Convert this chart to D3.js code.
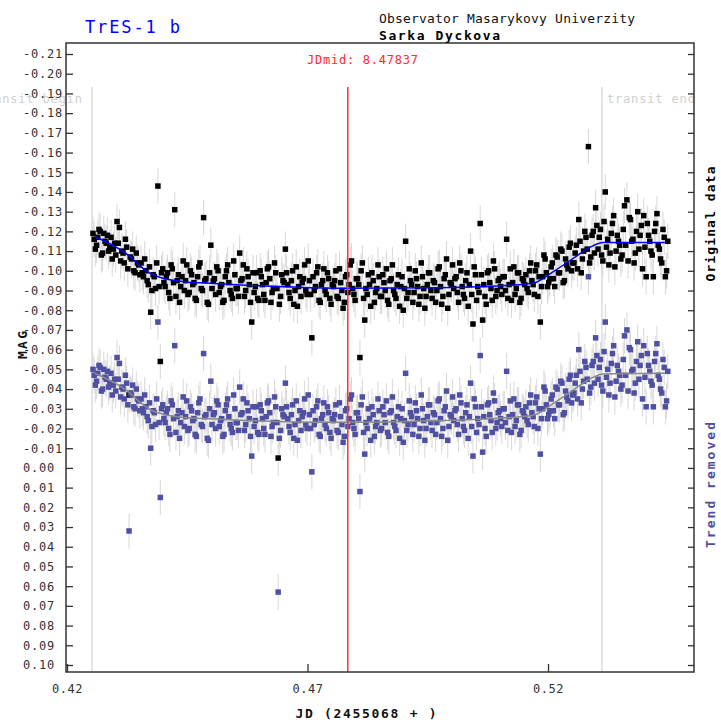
<!DOCTYPE html>
<html>
<head>
<meta charset="utf-8">
<script src="https://cdn.jsdelivr.net/npm/d3@7"></script>
<style>
  html, body { margin: 0; padding: 0; background: #fff; }
  svg { display: block; font-family: "DejaVu Sans Mono", monospace; }
</style>
</head>
<body>
<svg id="chart" width="721" height="727"></svg>
<script>
// observation times, JD - 2455068 (even frames, then odd frames)
const jd = [
  0.4254,0.4259,0.4264,0.4269,0.4274,0.4279,0.4284,0.4289,0.4294,0.4299,
  0.4304,0.4309,0.4314,0.4319,0.4324,0.4329,0.4334,0.4339,0.4344,0.4349,
  0.4354,0.4359,0.4364,0.4369,0.4374,0.4379,0.4384,0.4389,0.4394,0.4399,
  0.4404,0.4409,0.4414,0.4419,0.4424,0.4429,0.4434,0.4439,0.4444,0.4449,
  0.4454,0.4459,0.4464,0.4469,0.4474,0.4479,0.4484,0.4489,0.4494,0.4499,
  0.4504,0.4509,0.4514,0.4519,0.4524,0.4529,0.4534,0.4539,0.4544,0.4549,
  0.4554,0.4559,0.4564,0.4569,0.4574,0.4579,0.4584,0.4589,0.4594,0.4599,
  0.4604,0.4609,0.4614,0.4619,0.4624,0.4629,0.4634,0.4639,0.4644,0.4649,
  0.4654,0.4659,0.4664,0.4669,0.4674,0.4679,0.4684,0.4689,0.4694,0.4699,
  0.4704,0.4709,0.4714,0.4719,0.4724,0.4729,0.4734,0.4739,0.4744,0.4749,
  0.4754,0.4759,0.4764,0.4769,0.4774,0.4779,0.4784,0.4789,0.4794,0.4799,
  0.4804,0.4809,0.4814,0.4819,0.4824,0.4829,0.4834,0.4839,0.4844,0.4849,
  0.4854,0.4859,0.4864,0.4869,0.4874,0.4879,0.4884,0.4889,0.4894,0.4899,
  0.4904,0.4909,0.4914,0.4919,0.4924,0.4929,0.4934,0.4939,0.4944,0.4949,
  0.4954,0.4959,0.4964,0.4969,0.4974,0.4979,0.4984,0.4989,0.4994,0.4999,
  0.5004,0.5009,0.5014,0.5019,0.5024,0.5029,0.5034,0.5039,0.5044,0.5049,
  0.5054,0.5059,0.5064,0.5069,0.5074,0.5079,0.5084,0.5089,0.5094,0.5099,
  0.5104,0.5109,0.5114,0.5119,0.5124,0.5129,0.5134,0.5139,0.5144,0.5149,
  0.5154,0.5159,0.5164,0.5169,0.5174,0.5179,0.5184,0.5189,0.5194,0.5199,
  0.5204,0.5209,0.5214,0.5219,0.5224,0.5229,0.5234,0.5239,0.5244,0.5249,
  0.5254,0.5259,0.5264,0.5269,0.5274,0.5279,0.5284,0.5289,0.5294,0.5299,
  0.5304,0.5309,0.5314,0.5319,0.5324,0.5329,0.5334,0.5339,0.5344,0.5349,
  0.5354,0.5359,0.5364,0.5369,0.5374,0.5379,0.5384,0.5389,0.5394,0.5399,
  0.5404,0.5409,0.5414,0.5419,0.5424,0.5429,0.5434,0.5439,0.5444,0.5449,
  // odd frames
  0.42565,0.42615,0.42665,0.42715,0.42765,0.42815,0.42865,0.42915,0.42965,0.43015,
  0.43065,0.43115,0.43165,0.43215,0.43265,0.43315,0.43365,0.43415,0.43465,0.43515,
  0.43565,0.43615,0.43665,0.43715,0.43765,0.43815,0.43865,0.43915,0.43965,0.44015,
  0.44065,0.44115,0.44165,0.44215,0.44265,0.44315,0.44365,0.44415,0.44465,0.44515,
  0.44565,0.44615,0.44665,0.44715,0.44765,0.44815,0.44865,0.44915,0.44965,0.45015,
  0.45065,0.45115,0.45165,0.45215,0.45265,0.45315,0.45365,0.45415,0.45465,0.45515,
  0.45565,0.45615,0.45665,0.45715,0.45765,0.45815,0.45865,0.45915,0.45965,0.46015,
  0.46065,0.46115,0.46165,0.46215,0.46265,0.46315,0.46365,0.46415,0.46465,0.46515,
  0.46565,0.46615,0.46665,0.46715,0.46765,0.46815,0.46865,0.46915,0.46965,0.47015,
  0.47065,0.47115,0.47165,0.47215,0.47265,0.47315,0.47365,0.47415,0.47465,0.47515,
  0.47565,0.47615,0.47665,0.47715,0.47765,0.47815,0.47865,0.47915,0.47965,0.48015,
  0.48065,0.48115,0.48165,0.48215,0.48265,0.48315,0.48365,0.48415,0.48465,0.48515,
  0.48565,0.48615,0.48665,0.48715,0.48765,0.48815,0.48865,0.48915,0.48965,0.49015,
  0.49065,0.49115,0.49165,0.49215,0.49265,0.49315,0.49365,0.49415,0.49465,0.49515,
  0.49565,0.49615,0.49665,0.49715,0.49765,0.49815,0.49865,0.49915,0.49965,0.50015,
  0.50065,0.50115,0.50165,0.50215,0.50265,0.50315,0.50365,0.50415,0.50465,0.50515,
  0.50565,0.50615,0.50665,0.50715,0.50765,0.50815,0.50865,0.50915,0.50965,0.51015,
  0.51065,0.51115,0.51165,0.51215,0.51265,0.51315,0.51365,0.51415,0.51465,0.51515,
  0.51565,0.51615,0.51665,0.51715,0.51765,0.51815,0.51865,0.51915,0.51965,0.52015,
  0.52065,0.52115,0.52165,0.52215,0.52265,0.52315,0.52365,0.52415,0.52465,0.52515,
  0.52565,0.52615,0.52665,0.52715,0.52765,0.52815,0.52865,0.52915,0.52965,0.53015,
  0.53065,0.53115,0.53165,0.53215,0.53265,0.53315,0.53365,0.53415,0.53465,0.53515,
  0.53565,0.53615,0.53665,0.53715,0.53765,0.53815,0.53865,0.53915,0.53965,0.54015,
  0.54065,0.54115,0.54165,0.54215,0.54265,0.54315,0.54365,0.54415,0.54465
];

// magnitudes, original data
const magOriginal = [
  -0.119,-0.111,-0.117,-0.120,-0.109,-0.115,-0.118,-0.112,-0.106,-0.114,
  -0.125,-0.122,-0.110,-0.104,-0.112,-0.037,-0.106,-0.100,-0.109,-0.103,
  -0.104,-0.097,-0.100,-0.093,-0.079,-0.098,-0.091,-0.143,-0.054,-0.101,
  -0.092,-0.099,-0.086,-0.101,-0.131,-0.095,-0.084,-0.097,-0.090,-0.103,
  -0.089,-0.098,-0.094,-0.085,-0.102,-0.091,-0.127,-0.096,-0.083,-0.113,
  -0.095,-0.088,-0.100,-0.092,-0.084,-0.097,-0.103,-0.090,-0.086,-0.098,
  -0.091,-0.109,-0.096,-0.087,-0.101,-0.093,-0.074,-0.089,-0.099,-0.085,
  -0.097,-0.088,-0.094,-0.102,-0.084,-0.091,-0.099,-0.005,-0.087,-0.095,
  -0.111,-0.093,-0.086,-0.100,-0.090,-0.082,-0.097,-0.094,-0.103,-0.088,
  -0.095,-0.066,-0.090,-0.099,-0.085,-0.093,-0.101,-0.088,-0.096,-0.083,
  -0.092,-0.100,-0.086,-0.094,-0.081,-0.097,-0.089,-0.103,-0.091,-0.085,
  -0.096,-0.056,-0.104,-0.075,-0.088,-0.093,-0.099,-0.084,-0.091,-0.097,
  -0.087,-0.094,-0.101,-0.083,-0.096,-0.090,-0.086,-0.098,-0.092,-0.080,
  -0.115,-0.089,-0.095,-0.084,-0.100,-0.092,-0.087,-0.097,-0.081,-0.093,
  -0.099,-0.086,-0.094,-0.090,-0.102,-0.083,-0.096,-0.106,-0.088,-0.093,
  -0.091,-0.097,-0.084,-0.100,-0.088,-0.095,-0.082,-0.110,-0.073,-0.098,
  -0.092,-0.124,-0.075,-0.087,-0.099,-0.094,-0.085,-0.101,-0.090,-0.096,
  -0.088,-0.097,-0.116,-0.093,-0.085,-0.102,-0.091,-0.099,-0.086,-0.095,
  -0.098,-0.089,-0.104,-0.093,-0.100,-0.087,-0.074,-0.097,-0.106,-0.092,
  -0.096,-0.104,-0.092,-0.107,-0.099,-0.110,-0.095,-0.103,-0.112,-0.100,
  -0.104,-0.113,-0.126,-0.099,-0.110,-0.117,-0.163,-0.107,-0.120,-0.132,
  -0.111,-0.121,-0.105,-0.140,-0.116,-0.109,-0.124,-0.102,-0.118,-0.113,
  -0.108,-0.133,-0.136,-0.127,-0.115,-0.104,-0.120,-0.111,-0.123,-0.128,
  -0.097,-0.118,-0.110,-0.097,-0.124,-0.113,-0.106,-0.121,-0.097,-0.115,
  // odd frames
  -0.116,-0.113,-0.121,-0.108,-0.119,-0.114,-0.110,-0.117,-0.111,-0.108,
  -0.114,-0.105,-0.109,-0.116,-0.101,-0.107,-0.111,-0.099,-0.104,-0.098,
  -0.099,-0.106,-0.095,-0.102,-0.090,-0.097,-0.104,-0.092,-0.099,-0.094,
  -0.097,-0.089,-0.103,-0.094,-0.087,-0.098,-0.092,-0.105,-0.095,-0.088,
  -0.100,-0.093,-0.086,-0.097,-0.104,-0.090,-0.095,-0.084,-0.099,-0.091,
  -0.096,-0.102,-0.089,-0.093,-0.085,-0.100,-0.094,-0.088,-0.105,-0.091,
  -0.087,-0.095,-0.103,-0.090,-0.097,-0.084,-0.099,-0.092,-0.086,-0.100,
  -0.093,-0.085,-0.101,-0.096,-0.089,-0.104,-0.091,-0.083,-0.098,-0.094,
  -0.099,-0.089,-0.095,-0.083,-0.102,-0.092,-0.087,-0.096,-0.090,-0.105,
  -0.088,-0.097,-0.092,-0.102,-0.084,-0.095,-0.090,-0.099,-0.086,-0.093,
  -0.095,-0.087,-0.101,-0.090,-0.084,-0.098,-0.093,-0.105,-0.088,-0.096,
  -0.093,-0.100,-0.086,-0.091,-0.098,-0.082,-0.095,-0.089,-0.103,-0.087,
  -0.098,-0.090,-0.085,-0.095,-0.103,-0.088,-0.093,-0.082,-0.097,-0.091,
  -0.086,-0.101,-0.093,-0.089,-0.096,-0.083,-0.104,-0.091,-0.087,-0.099,
  -0.090,-0.095,-0.084,-0.101,-0.092,-0.087,-0.098,-0.081,-0.094,-0.103,
  -0.096,-0.089,-0.104,-0.092,-0.086,-0.099,-0.093,-0.088,-0.102,-0.085,
  -0.089,-0.098,-0.093,-0.083,-0.100,-0.091,-0.105,-0.087,-0.095,-0.092,
  -0.097,-0.090,-0.086,-0.101,-0.094,-0.088,-0.099,-0.084,-0.096,-0.093,
  -0.091,-0.100,-0.095,-0.088,-0.103,-0.097,-0.092,-0.108,-0.099,-0.094,
  -0.102,-0.096,-0.108,-0.099,-0.111,-0.094,-0.106,-0.101,-0.114,-0.104,
  -0.109,-0.101,-0.115,-0.106,-0.120,-0.111,-0.104,-0.118,-0.109,-0.123,
  -0.117,-0.108,-0.125,-0.112,-0.103,-0.119,-0.128,-0.110,-0.115,-0.106,
  -0.121,-0.113,-0.105,-0.126,-0.116,-0.109,-0.130,-0.118,-0.101,-0.112,
  -0.124,-0.115,-0.108,-0.120,-0.129,-0.111,-0.104,-0.117,-0.100
];

// magnitudes, trend removed
const magTrendRemoved = [
  -0.050,-0.042,-0.048,-0.051,-0.040,-0.046,-0.049,-0.043,-0.037,-0.045,
  -0.056,-0.053,-0.041,-0.035,-0.043, 0.032,-0.037,-0.031,-0.040,-0.034,
  -0.035,-0.028,-0.031,-0.024,-0.010,-0.029,-0.022,-0.074, 0.015,-0.032,
  -0.023,-0.030,-0.017,-0.032,-0.062,-0.026,-0.015,-0.028,-0.021,-0.034,
  -0.020,-0.029,-0.025,-0.016,-0.033,-0.022,-0.058,-0.027,-0.014,-0.044,
  -0.027,-0.020,-0.032,-0.024,-0.016,-0.029,-0.035,-0.022,-0.018,-0.030,
  -0.023,-0.041,-0.028,-0.019,-0.033,-0.025,-0.006,-0.021,-0.031,-0.017,
  -0.029,-0.020,-0.026,-0.034,-0.016,-0.023,-0.031, 0.063,-0.019,-0.027,
  -0.043,-0.025,-0.018,-0.032,-0.022,-0.014,-0.029,-0.026,-0.035,-0.020,
  -0.027, 0.002,-0.022,-0.031,-0.017,-0.025,-0.033,-0.020,-0.028,-0.015,
  -0.024,-0.032,-0.018,-0.026,-0.013,-0.029,-0.021,-0.035,-0.023,-0.017,
  -0.028, 0.012,-0.036,-0.007,-0.020,-0.025,-0.031,-0.016,-0.023,-0.029,
  -0.020,-0.027,-0.034,-0.016,-0.029,-0.023,-0.019,-0.031,-0.025,-0.013,
  -0.048,-0.022,-0.028,-0.017,-0.033,-0.025,-0.020,-0.030,-0.014,-0.026,
  -0.032,-0.019,-0.027,-0.023,-0.035,-0.016,-0.029,-0.039,-0.021,-0.026,
  -0.024,-0.030,-0.017,-0.033,-0.021,-0.028,-0.015,-0.043,-0.006,-0.031,
  -0.025,-0.057,-0.008,-0.020,-0.032,-0.027,-0.018,-0.034,-0.023,-0.029,
  -0.021,-0.030,-0.049,-0.026,-0.018,-0.035,-0.024,-0.032,-0.019,-0.028,
  -0.031,-0.022,-0.037,-0.026,-0.033,-0.020,-0.007,-0.030,-0.039,-0.025,
  -0.029,-0.037,-0.025,-0.040,-0.032,-0.043,-0.028,-0.036,-0.045,-0.033,
  -0.038,-0.047,-0.060,-0.033,-0.044,-0.051,-0.097,-0.041,-0.054,-0.066,
  -0.045,-0.055,-0.039,-0.074,-0.050,-0.043,-0.058,-0.036,-0.052,-0.047,
  -0.042,-0.067,-0.070,-0.061,-0.049,-0.038,-0.054,-0.045,-0.057,-0.062,
  -0.031,-0.052,-0.044,-0.031,-0.058,-0.047,-0.040,-0.055,-0.031,-0.049,
  // odd frames
  -0.047,-0.044,-0.052,-0.039,-0.050,-0.045,-0.041,-0.048,-0.042,-0.039,
  -0.045,-0.036,-0.040,-0.047,-0.032,-0.038,-0.042,-0.030,-0.035,-0.029,
  -0.030,-0.037,-0.026,-0.033,-0.021,-0.028,-0.035,-0.023,-0.030,-0.025,
  -0.028,-0.020,-0.034,-0.025,-0.018,-0.029,-0.023,-0.036,-0.026,-0.019,
  -0.031,-0.024,-0.017,-0.028,-0.035,-0.021,-0.026,-0.015,-0.030,-0.022,
  -0.028,-0.034,-0.021,-0.025,-0.017,-0.032,-0.026,-0.020,-0.037,-0.023,
  -0.019,-0.027,-0.035,-0.022,-0.029,-0.016,-0.031,-0.024,-0.018,-0.032,
  -0.025,-0.017,-0.033,-0.028,-0.021,-0.036,-0.023,-0.015,-0.030,-0.026,
  -0.031,-0.021,-0.027,-0.015,-0.034,-0.024,-0.019,-0.028,-0.022,-0.037,
  -0.020,-0.029,-0.024,-0.034,-0.016,-0.027,-0.022,-0.031,-0.018,-0.025,
  -0.027,-0.019,-0.033,-0.022,-0.016,-0.030,-0.025,-0.037,-0.020,-0.028,
  -0.025,-0.032,-0.018,-0.023,-0.030,-0.014,-0.027,-0.021,-0.035,-0.019,
  -0.031,-0.023,-0.018,-0.028,-0.036,-0.021,-0.026,-0.015,-0.030,-0.024,
  -0.019,-0.034,-0.026,-0.022,-0.029,-0.016,-0.037,-0.024,-0.020,-0.032,
  -0.023,-0.028,-0.017,-0.034,-0.025,-0.020,-0.031,-0.014,-0.027,-0.036,
  -0.029,-0.022,-0.037,-0.025,-0.019,-0.032,-0.026,-0.021,-0.035,-0.018,
  -0.022,-0.031,-0.026,-0.016,-0.033,-0.024,-0.038,-0.020,-0.028,-0.025,
  -0.030,-0.023,-0.019,-0.034,-0.027,-0.021,-0.032,-0.017,-0.029,-0.026,
  -0.024,-0.033,-0.028,-0.021,-0.036,-0.030,-0.025,-0.041,-0.032,-0.027,
  -0.035,-0.029,-0.041,-0.032,-0.044,-0.027,-0.039,-0.034,-0.047,-0.037,
  -0.043,-0.035,-0.049,-0.040,-0.054,-0.045,-0.038,-0.052,-0.043,-0.057,
  -0.051,-0.042,-0.059,-0.046,-0.037,-0.053,-0.062,-0.044,-0.049,-0.040,
  -0.055,-0.047,-0.039,-0.060,-0.050,-0.043,-0.064,-0.052,-0.035,-0.046,
  -0.058,-0.049,-0.042,-0.054,-0.063,-0.045,-0.038,-0.051,-0.034
];

const magError = 0.009;

// fitted transit model
const modelJd = [0.4258, 0.4303, 0.4331, 0.4352, 0.4373, 0.4393, 0.4442, 0.4497, 0.4560, 0.4636,
  0.4774, 0.4961, 0.5066, 0.5169, 0.5211, 0.5253, 0.5287, 0.5315, 0.5443];
const modelOriginal = [-0.1173, -0.1119, -0.1072, -0.1024, -0.0987, -0.0967, -0.0945, -0.0937, -0.0928, -0.0920,
  -0.0911, -0.0914, -0.0920, -0.0937, -0.0996, -0.1064, -0.1119, -0.1143, -0.1143];
const modelTrendRemoved = [-0.0479, -0.0426, -0.0380, -0.0333, -0.0296, -0.0277, -0.0256, -0.0249, -0.0242, -0.0236,
  -0.0231, -0.0239, -0.0248, -0.0267, -0.0327, -0.0396, -0.0452, -0.0477, -0.0480];

const jdMid = 0.47837;
const jdMidLabel = "JDmid: 8.47837";
const transitBegin = 0.4252;
const transitEnd = 0.5312;

const xTicks = [0.42, 0.47, 0.52];
const yTicks = [-0.21, -0.20, -0.19, -0.18, -0.17, -0.16, -0.15, -0.14, -0.13, -0.12, -0.11,
  -0.10, -0.09, -0.08, -0.07, -0.06, -0.05, -0.04, -0.03, -0.02, -0.01,
  0.00, 0.01, 0.02, 0.03, 0.04, 0.05, 0.06, 0.07, 0.08, 0.09, 0.10];

const plotLeft = 66, plotRight = 694, plotTop = 43, plotBottom = 672;

const svg = d3.select("#chart");

const x = d3.scaleLinear().domain([0.42, 0.55035]).range([67, 694]);
const y = d3.scaleLinear().domain([-0.21, 0.10]).range([54, 665]);

svg.append("defs").append("clipPath").attr("id", "clipRight")
  .append("rect").attr("x", 0).attr("y", 0).attr("width", plotRight).attr("height", 727);

// transit begin / end markers
svg.selectAll("line.transit")
  .data([transitBegin, transitEnd])
  .join("line")
  .attr("class", "transit")
  .attr("x1", d => x(d)).attr("x2", d => x(d))
  .attr("y1", 87).attr("y2", plotBottom)
  .attr("stroke", "#dcdcdc")
  .attr("stroke-width", 1.5);

svg.append("text")
  .attr("x", x(transitBegin) - 10).attr("y", 103)
  .attr("text-anchor", "end")
  .attr("font-size", 12)
  .attr("textLength", 104).attr("lengthAdjust", "spacing")
  .attr("fill", "#cfcfcf")
  .text("transit begin");

svg.append("text")
  .attr("x", x(transitEnd) + 5).attr("y", 103)
  .attr("clip-path", "url(#clipRight)")
  .attr("font-size", 12)
  .attr("textLength", 88).attr("lengthAdjust", "spacing")
  .attr("fill", "#cfcfcf")
  .text("transit end");

const original = jd.map((t, i) => ({ t: t, m: magOriginal[i] }));
const detrended = jd.map((t, i) => ({ t: t, m: magTrendRemoved[i] }));

// error bars
[original, detrended].forEach(series => {
  svg.append("g")
    .selectAll("line")
    .data(series)
    .join("line")
    .attr("x1", d => x(d.t)).attr("x2", d => x(d.t))
    .attr("y1", d => y(d.m - magError)).attr("y2", d => y(d.m + magError))
    .attr("stroke", "#d8d8d8")
    .attr("stroke-width", 1);
});

const sq = 5.5;

svg.append("g")
  .selectAll("rect")
  .data(original)
  .join("rect")
  .attr("x", d => x(d.t) - sq / 2)
  .attr("y", d => y(d.m) - sq / 2)
  .attr("width", sq).attr("height", sq)
  .attr("fill", "#000");

svg.append("g")
  .selectAll("rect")
  .data(detrended)
  .join("rect")
  .attr("x", d => x(d.t) - sq / 2)
  .attr("y", d => y(d.m) - sq / 2)
  .attr("width", sq).attr("height", sq)
  .attr("fill", "#5050a2");

const line = d3.line()
  .x((d, i) => x(modelJd[i]))
  .y(d => y(d))
  .curve(d3.curveMonotoneX);

svg.append("path")
  .attr("d", line(modelOriginal))
  .attr("fill", "none")
  .attr("stroke", "#0000ff")
  .attr("stroke-width", 1.5);

svg.append("path")
  .attr("d", line(modelTrendRemoved))
  .attr("fill", "none")
  .attr("stroke", "#8a8a8a")
  .attr("stroke-width", 1.5);

// mid-transit
svg.append("line")
  .attr("x1", x(jdMid)).attr("x2", x(jdMid))
  .attr("y1", 87).attr("y2", plotBottom)
  .attr("stroke", "#ff3030")
  .attr("stroke-width", 1.5);

svg.append("text")
  .attr("x", 307).attr("y", 64)
  .attr("font-size", 12)
  .attr("textLength", 111).attr("lengthAdjust", "spacing")
  .attr("fill", "#ff2a2a")
  .text(jdMidLabel);

// axes
const yLeft = svg.append("g")
  .attr("transform", `translate(${plotLeft},0)`)
  .call(d3.axisLeft(y).tickValues(yTicks).tickSize(-7).tickSizeOuter(0)
    .tickFormat(d => d.toFixed(2)));
yLeft.select(".domain").remove();
yLeft.selectAll("line").attr("stroke", "#333").attr("stroke-width", 1.3);
yLeft.selectAll("text")
  .attr("x", 23 - plotLeft)
  .attr("text-anchor", "start")
  .attr("font-family", "DejaVu Sans Mono, monospace")
  .attr("font-size", 12).attr("letter-spacing", 0.8)
  .attr("fill", "#333");

const yRight = svg.append("g")
  .attr("transform", `translate(${plotRight},0)`)
  .call(d3.axisLeft(y).tickValues(yTicks).tickSize(6).tickSizeOuter(0).tickFormat(""));
yRight.select(".domain").remove();
yRight.selectAll("line").attr("stroke", "#333").attr("stroke-width", 1.3);

const xAxis = svg.append("g")
  .attr("transform", `translate(0,${plotBottom})`)
  .call(d3.axisBottom(x).tickValues(xTicks).tickSize(-8).tickSizeOuter(0).tickPadding(12)
    .tickFormat(d => d.toFixed(2)));
xAxis.select(".domain").remove();
xAxis.selectAll("line").attr("stroke", "#333").attr("stroke-width", 1.3);
xAxis.selectAll("text")
  .attr("font-family", "DejaVu Sans Mono, monospace")
  .attr("font-size", 12).attr("letter-spacing", 0.5)
  .attr("fill", "#333");

svg.append("rect")
  .attr("x", plotLeft).attr("y", plotTop)
  .attr("width", plotRight - plotLeft).attr("height", plotBottom - plotTop)
  .attr("fill", "none")
  .attr("stroke", "#333")
  .attr("stroke-width", 1.5);

// titles and labels
svg.append("text")
  .attr("x", 85).attr("y", 33)
  .attr("font-size", 17)
  .attr("textLength", 95).attr("lengthAdjust", "spacing")
  .attr("fill", "#0000ff")
  .text("TrES-1 b");

svg.append("text")
  .attr("x", 379).attr("y", 23)
  .attr("font-size", 13)
  .attr("textLength", 256).attr("lengthAdjust", "spacing")
  .attr("fill", "#111")
  .text("Observator Masarykovy Univerzity");

svg.append("text")
  .attr("x", 379).attr("y", 40)
  .attr("font-size", 13).attr("font-weight", "bold")
  .attr("textLength", 121).attr("lengthAdjust", "spacing")
  .attr("fill", "#000")
  .text("Sarka Dyckova");

svg.append("text")
  .attr("x", 366).attr("y", 718)
  .attr("text-anchor", "middle")
  .attr("font-size", 13).attr("font-weight", "bold")
  .attr("textLength", 141).attr("lengthAdjust", "spacing")
  .attr("fill", "#111")
  .text("JD (2455068 + )");

svg.append("text")
  .attr("transform", "translate(27,345) rotate(-90)")
  .attr("text-anchor", "middle")
  .attr("font-size", 13).attr("font-weight", "bold")
  .attr("textLength", 28).attr("lengthAdjust", "spacing")
  .attr("fill", "#111")
  .text("MAG");

svg.append("text")
  .attr("transform", "translate(715,224) rotate(-90)")
  .attr("text-anchor", "middle")
  .attr("font-size", 13).attr("font-weight", "bold")
  .attr("textLength", 115).attr("lengthAdjust", "spacing")
  .attr("fill", "#000")
  .text("Original data");

svg.append("text")
  .attr("transform", "translate(715,485) rotate(-90)")
  .attr("text-anchor", "middle")
  .attr("font-size", 13).attr("font-weight", "bold")
  .attr("textLength", 126).attr("lengthAdjust", "spacing")
  .attr("fill", "#5050a2")
  .text("Trend removed");
</script>
</body>
</html>
